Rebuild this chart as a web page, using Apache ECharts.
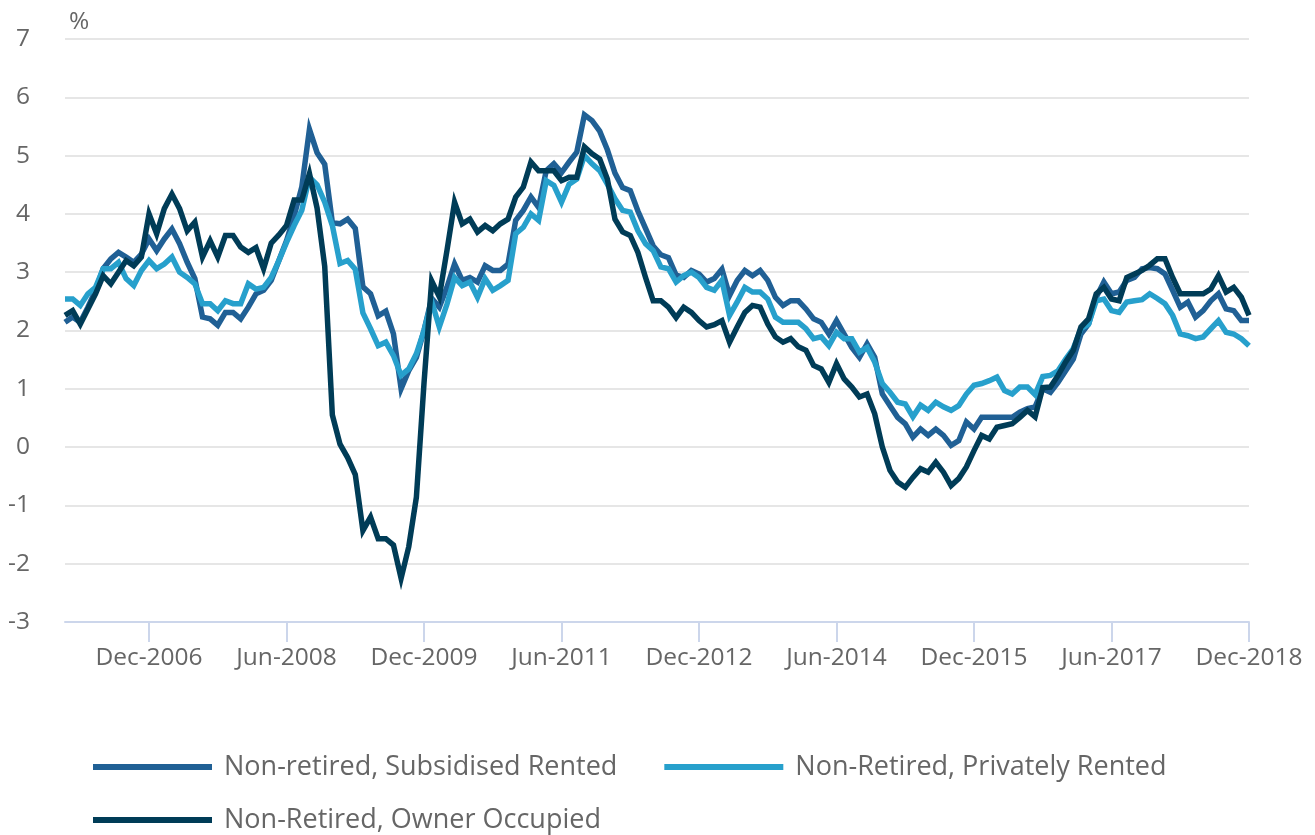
<!DOCTYPE html>
<html>
<head>
<meta charset="utf-8">
<script src="https://cdn.jsdelivr.net/npm/echarts@6/dist/echarts.min.js"></script>
<style>
html,body{margin:0;padding:0;background:#fff;}
#chart{width:1315px;height:835px;}
</style>
</head>
<body>
<div id="chart"></div>
<script>
// Monthly categories Jan-2006 .. Dec-2018
const monthNames = ['Jan','Feb','Mar','Apr','May','Jun','Jul','Aug','Sep','Oct','Nov','Dec'];
const startYear = 2006, endYear = 2018;
const categories = [];
for (let y = startYear; y <= endYear; y++) {
  for (let m = 0; m < 12; m++) categories.push(monthNames[m] + '-' + y);
}
const tickLabels = ['Dec-2006','Jun-2008','Dec-2009','Jun-2011','Dec-2012','Jun-2014','Dec-2015','Jun-2017','Dec-2018'];
const yTicks = [-3,-2,-1,0,1,2,3,4,5,6,7];

const seriesNames = ['Non-retired, Subsidised Rented','Non-Retired, Privately Rented','Non-Retired, Owner Occupied'];

const subsidisedRented = [
2.14,2.23,2.14,2.4,2.69,3.06,3.23,3.34,3.26,3.17,3.31,3.57,
3.37,3.57,3.74,3.49,3.17,2.89,2.23,2.2,2.09,2.31,2.31,2.2,
2.4,2.63,2.69,2.86,3.2,3.54,3.97,4.46,5.45,5.05,4.85,3.85,
3.83,3.91,3.75,2.75,2.63,2.25,2.33,1.94,1.0,1.31,1.54,2.0,
2.55,2.4,2.74,3.14,2.86,2.91,2.83,3.11,3.03,3.03,3.14,3.89,
4.06,4.29,4.11,4.74,4.86,4.71,4.89,5.06,5.7,5.6,5.42,5.1,
4.7,4.45,4.4,4.05,3.75,3.45,3.3,3.25,2.95,2.91,3.03,2.97,
2.83,2.89,3.05,2.6,2.86,3.03,2.94,3.03,2.86,2.57,2.43,2.51,
2.51,2.37,2.2,2.14,1.94,2.17,1.94,1.71,1.54,1.77,1.54,0.91,
0.71,0.51,0.4,0.17,0.31,0.2,0.31,0.2,0.03,0.11,0.43,0.31,
0.51,0.51,0.51,0.51,0.51,0.6,0.66,0.69,1.0,0.94,1.11,1.31,
1.51,1.94,2.11,2.57,2.83,2.63,2.66,2.86,2.91,3.06,3.08,3.06,
2.97,2.69,2.4,2.49,2.23,2.34,2.51,2.63,2.37,2.34,2.17,2.17
];
const privatelyRented = [
2.54,2.54,2.43,2.63,2.74,3.06,3.06,3.17,2.89,2.77,3.03,3.2,
3.06,3.14,3.26,3.0,2.91,2.8,2.46,2.46,2.34,2.51,2.46,2.46,
2.8,2.71,2.74,2.91,3.2,3.51,3.8,4.06,4.63,4.5,4.2,3.8,
3.15,3.2,3.05,2.3,2.03,1.74,1.8,1.57,1.23,1.34,1.6,2.0,
2.5,2.06,2.45,2.91,2.77,2.83,2.57,2.89,2.69,2.77,2.86,3.66,
3.77,4.0,3.89,4.57,4.49,4.2,4.51,4.6,5.0,4.86,4.74,4.51,
4.26,4.06,4.03,3.71,3.49,3.37,3.09,3.06,2.83,2.94,3.0,2.91,
2.74,2.69,2.86,2.26,2.49,2.74,2.66,2.66,2.54,2.23,2.14,2.14,
2.14,2.03,1.86,1.89,1.74,1.97,1.86,1.86,1.63,1.71,1.46,1.09,
0.94,0.77,0.74,0.52,0.72,0.63,0.77,0.69,0.63,0.71,0.91,1.06,
1.09,1.14,1.2,0.97,0.91,1.03,1.03,0.9,1.21,1.23,1.31,1.51,
1.69,2.03,2.11,2.51,2.54,2.34,2.31,2.49,2.51,2.53,2.63,2.55,
2.46,2.26,1.94,1.91,1.86,1.89,2.03,2.17,1.97,1.94,1.86,1.74
];
const ownerOccupied = [
2.26,2.34,2.11,2.37,2.63,2.94,2.8,3.0,3.2,3.11,3.26,4.0,
3.66,4.09,4.34,4.09,3.71,3.86,3.26,3.54,3.26,3.63,3.63,3.43,
3.34,3.42,3.06,3.5,3.64,3.8,4.24,4.24,4.69,4.1,3.1,0.55,
0.05,-0.18,-0.47,-1.43,-1.2,-1.57,-1.57,-1.68,-2.25,-1.71,-0.86,1.1,
2.85,2.58,3.37,4.2,3.83,3.91,3.69,3.8,3.71,3.83,3.91,4.29,
4.46,4.89,4.74,4.74,4.74,4.57,4.63,4.63,5.15,5.03,4.94,4.6,
3.91,3.69,3.63,3.34,2.91,2.51,2.51,2.4,2.22,2.4,2.31,2.17,
2.06,2.1,2.17,1.8,2.06,2.31,2.43,2.4,2.11,1.89,1.8,1.86,
1.72,1.66,1.4,1.34,1.11,1.43,1.17,1.03,0.86,0.91,0.57,0.0,
-0.4,-0.6,-0.69,-0.52,-0.37,-0.43,-0.26,-0.43,-0.66,-0.54,-0.34,-0.06,
0.2,0.14,0.34,0.37,0.4,0.51,0.63,0.52,1.02,1.03,1.23,1.46,
1.66,2.06,2.2,2.63,2.74,2.54,2.51,2.91,2.97,3.03,3.12,3.23,
3.23,2.91,2.63,2.63,2.63,2.63,2.71,2.94,2.66,2.74,2.57,2.26
];
const seriesData = [subsidisedRented, privatelyRented, ownerOccupied];
const colors = ['#206095', '#27a0cc', '#003c57'];

const FONT = '"Open Sans", "Noto Sans", sans-serif';
const showTick = (idx) => tickLabels.indexOf(categories[idx]) !== -1;

const chart = echarts.init(document.getElementById('chart'), null, {renderer: 'canvas'});
chart.setOption({
  animation: false,
  textStyle: {fontFamily: FONT},
  title: {
    text: '%', left: 64, top: 5,
    textStyle: {fontFamily: FONT, fontSize: 24.5, fontWeight: 'normal', color: '#666666'}
  },
  grid: {left: 65, right: 66, top: 39, bottom: 213, containLabel: false},
  xAxis: {
    type: 'category',
    data: categories,
    boundaryGap: false,
    axisLine: {show: true, onZero: false, lineStyle: {color: '#ccd6eb', width: 2}},
    axisTick: {show: true, interval: (idx) => showTick(idx), length: 20, lineStyle: {color: '#ccd6eb', width: 2}},
    axisLabel: {
      interval: (idx) => showTick(idx),
      margin: 24, fontSize: 24.5, color: '#666666', fontFamily: FONT
    },
    splitLine: {show: false}
  },
  yAxis: {
    type: 'value',
    min: yTicks[0], max: yTicks[yTicks.length - 1], interval: 1,
    axisLine: {show: false},
    axisTick: {show: false},
    axisLabel: {margin: 35, fontSize: 24.5, color: '#666666', fontFamily: FONT},
    splitLine: {lineStyle: {color: '#e6e6e6', width: 2}}
  },
  legend: [
    {
      data: [seriesNames[0], seriesNames[1]],
      left: 93, top: 753, padding: 0,
      icon: 'rect', itemWidth: 119, itemHeight: 6, itemGap: 47,
      textStyle: {fontFamily: FONT, fontSize: 27, color: '#666666', lineHeight: 28, padding: [0, 0, 0, 7]}
    },
    {
      data: [seriesNames[2]],
      left: 93, top: 806, padding: 0,
      icon: 'rect', itemWidth: 119, itemHeight: 6, itemGap: 47,
      textStyle: {fontFamily: FONT, fontSize: 27, color: '#666666', lineHeight: 28, padding: [0, 0, 0, 7]}
    }
  ],
  series: seriesNames.map((name, k) => ({
    name: name,
    type: 'line',
    data: seriesData[k],
    showSymbol: false,
    symbol: 'none',
    color: colors[k],
    lineStyle: {color: colors[k], width: 5.5, join: 'miter'},
    itemStyle: {color: colors[k]},
    emphasis: {disabled: true}
  }))
});
</script>
</body>
</html>
